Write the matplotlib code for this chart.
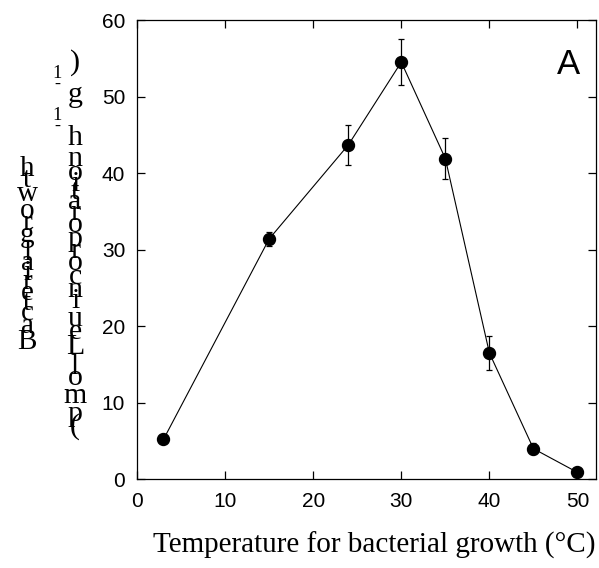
import matplotlib
matplotlib.use("Agg")
import matplotlib.pyplot as plt
from matplotlib.font_manager import findfont, FontProperties
from matplotlib.ft2font import FT2Font

# ---- data ----
temperature = [3, 15, 24, 30, 35, 40, 45, 50]
leu_incorp = [5.2, 31.4, 43.7, 54.5, 41.9, 16.5, 4.0, 0.9]
leu_err = [0.3, 0.9, 2.6, 3.0, 2.7, 2.2, 0.75, 0.2]
xticks = [0, 10, 20, 30, 40, 50]
yticks = [0, 10, 20, 30, 40, 50, 60]
xlabel_text = "Temperature for bacterial growth (°C)"
ylabel_line1 = "Bacterial growth"
# (text, is_superscript)
ylabel_line2 = [("(pmol Leu incorporation h", False), ("-1", True),
                (" g", False), ("-1", True), (")", False)]
panel_label = "A"

W, H, DPI = 599, 568, 100
fig = plt.figure(figsize=(W / DPI, H / DPI), dpi=DPI)
ax = fig.add_axes([137 / W, 1 - 479.3 / H, (596 - 137) / W, (479.3 - 20) / H])

ax.errorbar(temperature, leu_incorp, yerr=leu_err, fmt='o-', color='black',
            ecolor='black', elinewidth=0.9, capsize=2.5, capthick=0.9,
            markersize=8.6, linewidth=0.8, zorder=3)

ax.set_xlim(0, 52.1)
ax.set_ylim(0, 60)
ax.set_xticks(xticks)
ax.set_yticks(yticks)
ax.tick_params(direction='in', length=6, width=0.9, top=True, right=True,
               labelsize=15)
ax.tick_params(axis='x', pad=9)
ax.tick_params(axis='y', pad=8.5)
for lab in ax.get_xticklabels() + ax.get_yticklabels():
    lab.set_fontfamily('Liberation Sans')
for s in ax.spines.values():
    s.set_linewidth(0.9)

ax.text(0.965, 0.94, panel_label, transform=ax.transAxes, ha='right', va='top',
        fontsize=25, family='Liberation Sans')

fig.text(374 / W, 1 - 545 / H, xlabel_text, ha='center', va='center',
         fontsize=21, family='Liberation Serif')

# ---- vertically stacked y-label (upright glyphs stacked bottom-to-top) ----
serif_path = findfont(FontProperties(family='Liberation Serif'))


def advance_px(ch, size_pt):
    f = FT2Font(serif_path)
    f.set_size(size_pt, DPI)
    g = f.load_char(ord(ch))
    try:
        return g.linearHoriAdvance / 65536.0
    except AttributeError:
        return g.horiAdvance / 64.0


def stack(parts, x_center, y_start, size, mult=1.0, sup_scale=0.62,
          sup_adv_scale=0.9, sup_dx=-18):
    y = y_start
    for text, sup in parts:
        fs = size * sup_scale if sup else size
        for ch in text:
            if sup:
                adv = advance_px(ch, size * sup_adv_scale) * mult
            else:
                adv = advance_px(ch, fs) * mult
            if ch != ' ':
                xc = x_center + (sup_dx if sup else 0)
                fig.text(xc / W, 1 - (y - adv / 2) / H, ch, ha='center',
                         va='center', fontsize=fs, family='Liberation Serif')
            y -= adv


stack([(ylabel_line1, False)], 27, 351, 21, mult=0.97)
stack(ylabel_line2, 75, 431, 21.5, mult=0.95)

fig.savefig("out.png", dpi=DPI)
